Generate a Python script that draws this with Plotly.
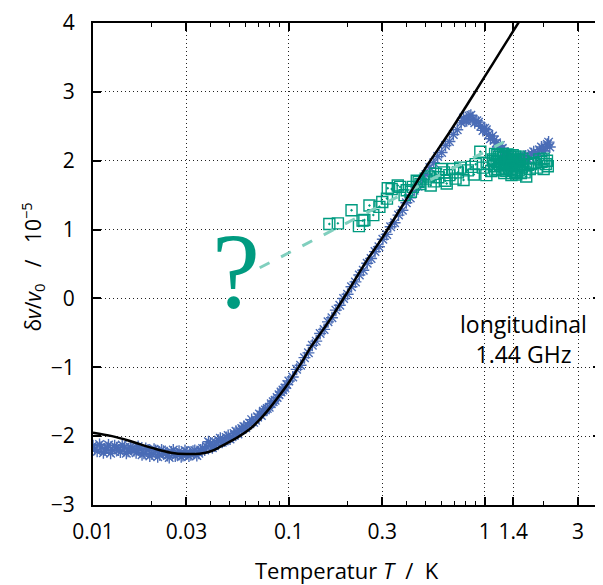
import plotly.graph_objects as go

# ---------------- data ----------------
blue_T = [0.0100, 0.0105, 0.0110, 0.0115, 0.0120, 0.0126, 0.0132, 0.0138, 0.0145, 0.0151,
          0.0158, 0.0166, 0.0174, 0.0182, 0.0191, 0.0200, 0.0209, 0.0219, 0.0229, 0.0240,
          0.0251, 0.0263, 0.0275, 0.0288, 0.0302, 0.0316, 0.0331, 0.0347, 0.0363, 0.0380,
          0.0398, 0.0417, 0.0437, 0.0457, 0.0479, 0.0501, 0.0525, 0.0550, 0.0575, 0.0603,
          0.0631, 0.0661, 0.0692, 0.0724, 0.0759, 0.0794, 0.0832, 0.0871, 0.0912, 0.0955,
          0.1000, 0.1047, 0.1096, 0.1148, 0.1202, 0.1259, 0.1318, 0.1380, 0.1445, 0.1514,
          0.1585, 0.1660, 0.1738, 0.1820, 0.1905, 0.1995, 0.2089, 0.2188, 0.2291, 0.2399,
          0.2512, 0.2630, 0.2754, 0.2884, 0.3020, 0.3162, 0.3311, 0.3467, 0.3631, 0.3802,
          0.3981, 0.4169, 0.4365, 0.4571, 0.4786, 0.5012, 0.5248, 0.5495, 0.5754, 0.6026,
          0.6310, 0.6607, 0.6918, 0.7244, 0.7586, 0.7943, 0.8318, 0.8710, 0.9120, 0.9550,
          1.0000, 1.0471, 1.0965, 1.1482, 1.2023, 1.2589, 1.3183, 1.3804, 1.4454, 1.5136,
          1.5849, 1.6596, 1.7378, 1.8197, 1.9055, 1.9953, 2.0893, 2.1500]
blue_y = [-2.14, -2.22, -2.16, -2.20, -2.13, -2.21, -2.17, -2.23, -2.16, -2.22,
          -2.18, -2.24, -2.19, -2.25, -2.20, -2.26, -2.21, -2.27, -2.22, -2.28,
          -2.23, -2.29, -2.22, -2.28, -2.23, -2.27, -2.21, -2.25, -2.18, -2.15,
          -2.10, -2.14, -2.06, -2.09, -2.02, -2.04, -1.96, -1.97, -1.89, -1.88,
          -1.81, -1.80, -1.72, -1.70, -1.62, -1.58, -1.50, -1.44, -1.36, -1.30,
          -1.20, -1.14, -1.03, -0.97, -0.86, -0.79, -0.68, -0.62, -0.51, -0.45,
          -0.34, -0.28, -0.17, -0.10, 0.00, 0.06, 0.17, 0.24, 0.34, 0.41,
          0.51, 0.58, 0.68, 0.75, 0.86, 0.93, 1.04, 1.10, 1.21, 1.28,
          1.39, 1.46, 1.57, 1.63, 1.73, 1.80, 1.90, 1.97, 2.06, 2.12,
          2.22, 2.28, 2.38, 2.45, 2.55, 2.58, 2.65, 2.60, 2.58, 2.50,
          2.47, 2.38, 2.36, 2.26, 2.22, 2.13, 2.10, 2.02, 2.05, 1.99,
          2.06, 2.02, 2.10, 2.08, 2.16, 2.14, 2.24, 2.20]

blue_T2 = [0.0102, 0.0108, 0.0113, 0.0118, 0.0123, 0.0129, 0.0135, 0.0141, 0.0148, 0.0155,
           0.0162, 0.0170, 0.0178, 0.0186, 0.0195, 0.0205, 0.0214, 0.0224, 0.0235, 0.0245,
           0.0257, 0.0269, 0.0282, 0.0295, 0.0309, 0.0324, 0.0339, 0.0355, 0.0372, 0.0389,
           0.0407, 0.0427, 0.0447, 0.0468, 0.0490, 0.0513, 0.0537, 0.0562, 0.0589, 0.0617,
           0.0646, 0.0676, 0.0708, 0.0741, 0.0776, 0.0813, 0.0851, 0.0891, 0.0933, 0.0977,
           0.78, 0.81, 0.85, 0.89, 0.93, 0.98, 1.02, 1.07, 1.12, 1.17,
           1.23, 1.29, 1.35, 1.41, 1.48, 1.55, 1.62, 1.70, 1.78, 1.86,
           1.95, 2.04, 2.12]
blue_y2 = [-2.19, -2.12, -2.24, -2.17, -2.25, -2.14, -2.20, -2.13, -2.25, -2.16,
           -2.21, -2.15, -2.27, -2.18, -2.29, -2.19, -2.30, -2.20, -2.25, -2.31,
           -2.20, -2.26, -2.30, -2.21, -2.29, -2.22, -2.28, -2.20, -2.20, -2.08,
           -2.17, -2.10, -2.03, -2.07, -1.99, -2.01, -1.93, -1.92, -1.86, -1.84,
           -1.76, -1.77, -1.68, -1.64, -1.60, -1.53, -1.48, -1.40, -1.33, -1.25,
           2.62, 2.58, 2.66, 2.55, 2.56, 2.44, 2.45, 2.32, 2.30, 2.20,
           2.18, 2.07, 2.08, 1.97, 2.02, 2.03, 2.07, 2.05, 2.13, 2.11,
           2.20, 2.19, 2.27]

teal_T = [0.161, 0.178, 0.209, 0.228, 0.238, 0.243, 0.258, 0.270, 0.290, 0.300,
          0.317, 0.320, 0.335, 0.360, 0.370, 0.390, 0.400, 0.420, 0.430, 0.450,
          0.460, 0.470, 0.500, 0.520, 0.530, 0.550, 0.560, 0.580, 0.600, 0.620,
          0.630, 0.640, 0.660, 0.690, 0.710, 0.730, 0.750, 0.780, 0.820, 0.860,
          0.880, 0.900, 0.950, 0.980, 1.020, 1.050, 1.080, 1.100, 1.120, 1.150,
          1.170, 1.180, 1.200, 1.220, 1.250, 1.270, 1.300, 1.320, 1.340, 1.360,
          1.370, 1.400, 1.420, 1.440, 1.460, 1.480, 1.490, 1.520, 1.550, 1.580,
          1.600, 1.630, 1.660, 1.700, 1.730, 1.780, 1.850, 1.900, 1.950, 2.000,
          2.000, 2.050, 2.080, 2.100,
          1.11, 1.13, 1.16, 1.19, 1.21, 1.23, 1.24, 1.26, 1.28, 1.29,
          1.31, 1.33, 1.35, 1.38, 1.39, 1.41, 1.43, 1.45, 1.47, 1.50,
          1.53, 1.56, 1.13, 1.26, 1.37]
teal_y = [1.08, 1.09, 1.28, 1.05, 1.13, 1.14, 1.35, 1.21, 1.33, 1.40,
          1.45, 1.60, 1.59, 1.64, 1.62, 1.50, 1.57, 1.55, 1.62, 1.71,
          1.69, 1.66, 1.74, 1.77, 1.64, 1.70, 1.81, 1.76, 1.88, 1.83,
          1.71, 1.67, 1.79, 1.88, 1.74, 1.83, 1.90, 1.72, 1.86, 1.91,
          1.80, 1.95, 2.13, 1.90, 1.79, 1.96, 1.85, 2.02, 1.92, 1.98,
          1.88, 2.05, 1.93, 1.99, 2.04, 1.90, 1.97, 2.02, 1.88, 1.94,
          2.00, 2.03, 1.92, 1.98, 1.84, 2.01, 1.86, 1.95, 1.90, 1.99,
          1.83, 1.77, 1.94, 1.88, 1.95, 1.97, 1.90, 2.02, 1.98, 1.88,
          2.03, 1.95, 2.00, 1.92,
          2.00, 1.87, 2.08, 1.95, 2.06, 1.86, 2.10, 1.97, 2.07, 1.85,
          2.09, 1.95, 2.06, 1.82, 2.08, 1.86, 2.06, 1.80, 1.93, 2.06,
          1.82, 2.03, 2.10, 1.82, 1.79]

model_T = [0.010, 0.0125, 0.015, 0.0175, 0.020, 0.025, 0.030, 0.035, 0.040, 0.045,
           0.050, 0.056, 0.063, 0.070, 0.080, 0.090, 0.100, 0.115, 0.130, 0.150,
           0.170, 0.200, 0.250, 0.300, 0.400, 0.500, 0.650, 0.800, 1.000, 1.200, 1.500]
model_y = [-1.95, -2.00, -2.06, -2.12, -2.17, -2.24, -2.26, -2.255, -2.22, -2.15,
           -2.08, -2.00, -1.90, -1.78, -1.59, -1.40, -1.22, -0.95, -0.70, -0.45,
           -0.22, 0.10, 0.55, 0.88, 1.45, 1.90, 2.38, 2.78, 3.22, 3.58, 4.02]

fit_T = [0.071, 1.25]
fit_y = [0.445, 2.27]

x_tickvals = [0.01, 0.03, 0.1, 0.3, 1, 1.4, 3]
x_ticktext = ["0.01", "0.03", "0.1", "0.3", "1", "1.4", "3"]
x_minorvals = [0.02, 0.04, 0.05, 0.06, 0.07, 0.08, 0.09,
               0.2, 0.4, 0.5, 0.6, 0.7, 0.8, 0.9, 2]
y_tickvals = [-3, -2, -1, 0, 1, 2, 3, 4]

BLUE = "#4a6cb6"
TEAL = "#009b80"
LTEAL = "#80cfbe"
FONT = "Open Sans"

fig = go.Figure()
fig.add_trace(go.Scatter(x=blue_T + blue_T2, y=blue_y + blue_y2, mode="markers",
                         marker=dict(symbol="asterisk-open", size=10,
                                     line=dict(color=BLUE, width=1.4), color=BLUE)))
fig.add_trace(go.Scatter(x=teal_T, y=teal_y, mode="markers",
                         marker=dict(symbol="square-open-dot", size=11,
                                     line=dict(color=TEAL, width=1.4), color=TEAL)))
fig.add_trace(go.Scatter(x=fit_T, y=fit_y, mode="lines",
                         line=dict(color=LTEAL, width=3, dash="11px,13px")))
fig.add_trace(go.Scatter(x=model_T, y=model_y, mode="lines",
                         line=dict(color="black", width=2.5, shape="spline")))

axis_common = dict(
    showline=True, linecolor="black", linewidth=2, mirror="ticks",
    ticks="inside", ticklen=8, tickwidth=1.5, tickcolor="black",
    showgrid=True, gridcolor="#222222", gridwidth=1, griddash="1px,3px",
    zeroline=False, tickfont=dict(family=FONT, size=21, color="black"),
    ticklabeloverflow="allow",
)

fig.update_xaxes(type="log", range=[-2, 0.594], tickmode="array",
                 tickvals=x_tickvals, ticktext=x_ticktext,
                 minor=dict(tickmode="array", tickvals=x_minorvals, ticks="inside",
                            ticklen=4, tickwidth=1.2, tickcolor="black", showgrid=False),
                 ticklabelstandoff=7, **axis_common)
fig.update_yaxes(range=[-3, 4], tickmode="array", tickvals=y_tickvals,
                 ticklabelstandoff=12, **axis_common)

fig.add_annotation(xref="paper", yref="paper", x=0.5, y=-0.134,
                   text="Temperatur <i>T</i>  /  K", showarrow=False,
                   font=dict(family=FONT, size=22, color="black"),
                   xanchor="center", yanchor="middle")
fig.add_annotation(xref="paper", yref="paper", x=-0.1196, y=0.493,
                   text="δ<i>v</i>/<i>v</i><sub>0</sub>   /   10<sup>−5</sup>",
                   showarrow=False, textangle=-90,
                   font=dict(family=FONT, size=21, color="black"),
                   xanchor="center", yanchor="middle")
fig.add_annotation(xref="x", yref="y", x=0.199, y=-0.596, xanchor="center",
                   yanchor="middle", text="longitudinal<br>1.44 GHz", showarrow=False,
                   font=dict(family=FONT, size=23, color="black"))
fig.add_annotation(xref="x", yref="y", x=-1.27, y=0.40, xanchor="center",
                   yanchor="middle", text="?", showarrow=False,
                   font=dict(family="Liberation Serif", size=108, color=TEAL))

# page body has an 8px margin: shrink the figure so the plot frame lands
# at the same page pixels as the reference
fig.update_layout(width=595, height=577, margin=dict(l=85, r=0, t=10, b=80),
                  plot_bgcolor="white", paper_bgcolor="white", showlegend=False)

fig.write_html("out.html")
